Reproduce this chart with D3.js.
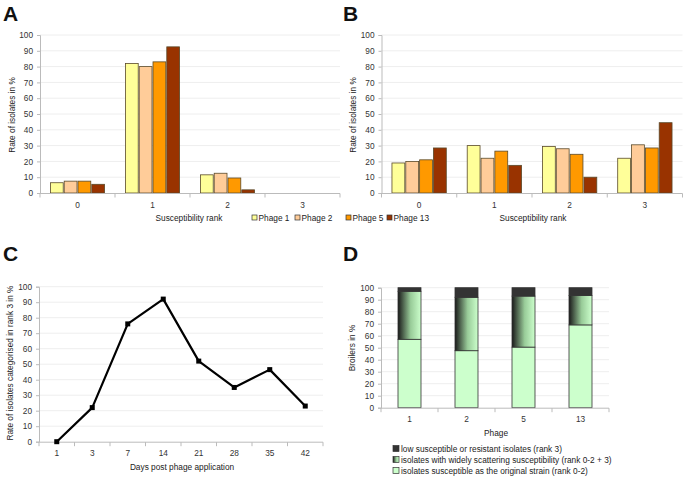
<!DOCTYPE html>
<html><head><meta charset="utf-8">
<script src="https://cdn.jsdelivr.net/npm/d3@7"></script>
<style>
body{margin:0;background:#fff;}
text{font-family:"Liberation Sans",Arial,sans-serif;}
</style></head>
<body>
<svg id="c" width="686" height="479"></svg>
<script>
const ranks = ["0","1","2","3"];
const phages = ["Phage 1","Phage 2","Phage 5","Phage 13"];
const phageColors = ["#ffff99","#ffcc99","#ff9900","#993300"];
const valuesA = [
  [6.5, 7.5, 7.5, 5.5],
  [82, 80, 83, 92.5],
  [11.5, 12.5, 9.5, 2],
  [0, 0, 0, 0]
];
const valuesB = [
  [19, 20, 21, 28.5],
  [30, 22, 26.5, 17.5],
  [29.5, 28, 24.5, 10],
  [22, 30.5, 28.5, 44.5]
];
const days = ["1","3","7","14","21","28","35","42"];
const rank3Rate = [0, 22, 76, 92, 52, 35, 46.5, 23];
const phageD = ["1","2","5","13"];
const suscOriginal = [57, 47.5, 50.5, 69];
const scattering = [40, 44.5, 42.5, 24.5];
const resistant = [3, 8, 7, 6.5];
const legendD = [
  "low susceptible or resistant isolates (rank 3)",
  "isolates with widely scattering susceptibility (rank 0-2 + 3)",
  "isolates susceptible as the original strain (rank 0-2)"
];
const yTicks = [0,10,20,30,40,50,60,70,80,90,100];
const FS = 8.3;

const svg = d3.select("#c");
const defs = svg.append("defs");
const grad = defs.append("linearGradient").attr("id","gmid").attr("x1","0").attr("x2","1").attr("y1","0").attr("y2","0");
grad.append("stop").attr("offset","0").attr("stop-color","#1a1a1a");
grad.append("stop").attr("offset","0.55").attr("stop-color","#99cc99");
grad.append("stop").attr("offset","1").attr("stop-color","#ccffcc");

function panelLabel(t,x,y){
  svg.append("text").attr("x",x).attr("y",y).attr("font-size",21).attr("font-weight","bold").attr("fill","#111").text(t);
}
function yAxis(g, y, x0, x1){
  g.append("g").selectAll("line").data(yTicks.slice(1)).join("line")
    .attr("x1",x0).attr("x2",x1).attr("y1",d=>y(d)).attr("y2",d=>y(d)).attr("stroke","#eeeeee");
  const ax = g.append("g").attr("transform",`translate(${x0},0)`).call(d3.axisLeft(y).tickValues(yTicks).tickSize(3).tickPadding(4));
  ax.select(".domain").attr("stroke","#bbb");
  ax.selectAll(".tick line").attr("stroke","#bbb");
  ax.selectAll("text").attr("font-size",FS).attr("fill","#333").attr("font-family","Liberation Sans, Arial, sans-serif");
}
function xAxisBand(g, x, yPos, labels){
  g.append("line").attr("x1",x.range()[0]).attr("x2",x.range()[1]).attr("y1",yPos).attr("y2",yPos).attr("stroke","#bbb");
  const bounds = labels.map(d=>x(d)).concat([x.range()[1]]);
  g.selectAll(".bt").data(bounds).join("line").attr("x1",d=>d).attr("x2",d=>d).attr("y1",yPos).attr("y2",yPos+4).attr("stroke","#bbb");
  g.selectAll(".lb").data(labels).join("text").attr("x",d=>x(d)+x.bandwidth()/2).attr("y",yPos+14)
    .attr("text-anchor","middle").attr("font-size",FS).attr("fill","#333").text(d=>d);
}
function yLabel(t,x,y){
  svg.append("text").attr("transform",`translate(${x},${y}) rotate(-90)`).attr("text-anchor","middle")
    .attr("font-size",FS).attr("fill","#222").text(t);
}

function groupedPanel(vals, x0, x1){
  const g = svg.append("g");
  const y = d3.scaleLinear().domain([0,100]).range([193,35]);
  const x = d3.scaleBand().domain(ranks).range([x0,x1]);
  yAxis(g,y,x0,x1);
  const inner = d3.scaleBand().domain(phages).range([0,x.bandwidth()]).paddingInner(0).paddingOuter(0.72);
  ranks.forEach((r,i)=>{
    g.append("g").selectAll("rect").data(vals[i].map((v,j)=>({v,j}))).join("rect")
      .filter(d=>d.v>0)
      .attr("x",d=>x(r)+inner(phages[d.j])+0.5).attr("width",inner.bandwidth()-1)
      .attr("y",d=>y(d.v)).attr("height",d=>y(0)-y(d.v))
      .attr("fill",d=>phageColors[d.j]).attr("stroke","#5a4a2a").attr("stroke-width",0.8);
  });
  xAxisBand(g,x,193.5,ranks);
  return g;
}
groupedPanel(valuesA,40,340);
groupedPanel(valuesB,381.5,682.5);
panelLabel("A",3,21);
panelLabel("B",343,21);
yLabel("Rate of isolates in %",15,115);
yLabel("Rate of isolates in %",356,115);
svg.append("text").attr("x",189).attr("y",221).attr("text-anchor","middle").attr("font-size",FS).attr("fill","#222").text("Susceptibility rank");
svg.append("text").attr("x",533).attr("y",221).attr("text-anchor","middle").attr("font-size",FS).attr("fill","#222").text("Susceptibility rank");
// legend A/B
const legX = [252,295,346,387];
phages.forEach((p,i)=>{
  svg.append("rect").attr("x",legX[i]).attr("y",215).attr("width",5).attr("height",5).attr("fill",phageColors[i]).attr("stroke","#333").attr("stroke-width",0.7);
  svg.append("text").attr("x",legX[i]+6.5).attr("y",221).attr("font-size",FS).attr("fill","#222").text(p);
});

// Panel C
{
  const g = svg.append("g");
  const y = d3.scaleLinear().domain([0,100]).range([441.7,286.7]);
  const x = d3.scaleBand().domain(days).range([39,323]);
  yAxis(g,y,39,323);
  xAxisBand(g,x,442.2,days);
  const line = d3.line().x((d,i)=>x(days[i])+x.bandwidth()/2).y(d=>y(d));
  g.append("path").datum(rank3Rate).attr("d",line).attr("fill","none").attr("stroke","#000").attr("stroke-width",2.2).attr("stroke-linejoin","round");
  g.selectAll(".pt").data(rank3Rate).join("rect").attr("x",(d,i)=>x(days[i])+x.bandwidth()/2-2.5).attr("y",d=>y(d)-2.5)
    .attr("width",5).attr("height",5).attr("fill","#000");
  panelLabel("C",3,261);
  yLabel("Rate of isolates categorised in rank 3 in %",13,363);
  svg.append("text").attr("x",182).attr("y",470).attr("text-anchor","middle").attr("font-size",FS).attr("fill","#222").text("Days post phage application");
}

// Panel D
{
  const g = svg.append("g");
  const y = d3.scaleLinear().domain([0,100]).range([407.7,287.7]);
  const x = d3.scaleBand().domain(phageD).range([381,609]);
  yAxis(g,y,381,609);
  const bw = 23;
  const stackData = phageD.map((p,i)=>({p, a:suscOriginal[i], b:scattering[i], c:resistant[i]}));
  const stacked = d3.stack().keys(["a","b","c"])(stackData);
  const fills = ["#ccffcc","url(#gmid)","#333333"];
  stacked.forEach((layer,k)=>{
    g.append("g").selectAll("rect").data(layer).join("rect")
      .attr("x",d=>x(d.data.p)+x.bandwidth()/2-bw/2).attr("width",bw)
      .attr("y",d=>y(d[1])).attr("height",d=>y(d[0])-y(d[1]))
      .attr("fill",fills[k]).attr("stroke","#333").attr("stroke-width",0.8);
  });
  xAxisBand(g,x,408.2,phageD);
  panelLabel("D",343,261);
  yLabel("Broilers in %",355,348);
  svg.append("text").attr("x",496).attr("y",436).attr("text-anchor","middle").attr("font-size",FS).attr("fill","#222").text("Phage");
  const lf = ["#333333","url(#gmid)","#ccffcc"];
  legendD.forEach((t,i)=>{
    const yy = 446+i*11;
    svg.append("rect").attr("x",393).attr("y",yy-0.5).attr("width",6).attr("height",6).attr("fill",lf[i]).attr("stroke","#333").attr("stroke-width",0.7);
    svg.append("text").attr("x",401).attr("y",yy+6).attr("font-size",FS).attr("fill","#222").text(t);
  });
}
</script>
</body></html>
